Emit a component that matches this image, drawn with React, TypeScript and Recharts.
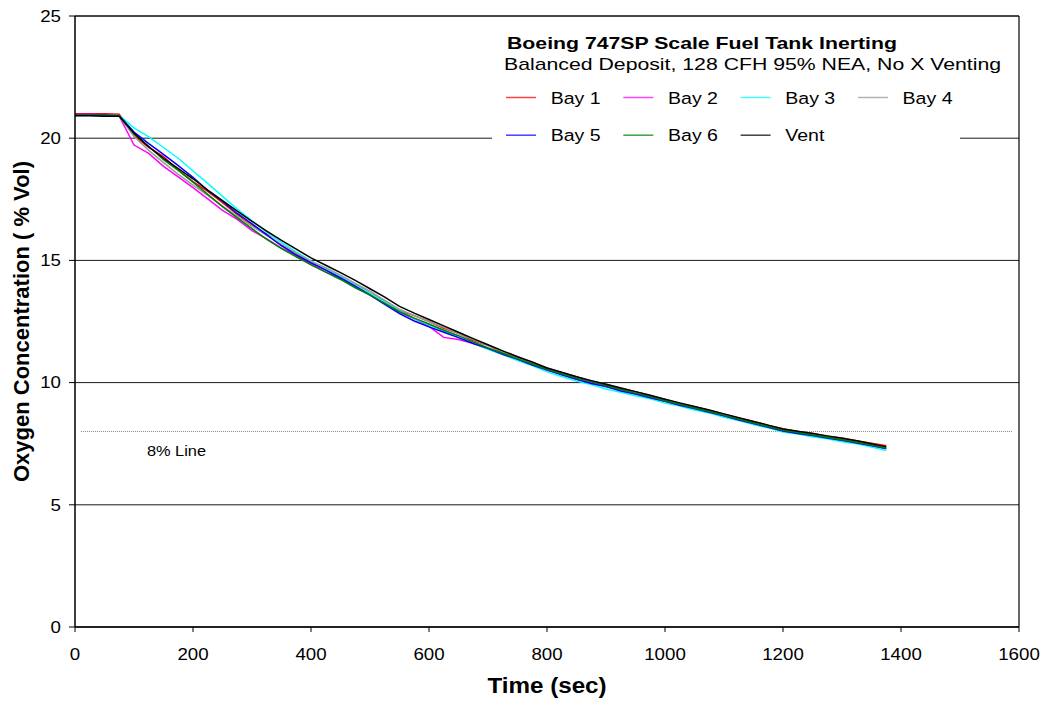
import React from 'react';
import { LineChart, Line, XAxis, YAxis, CartesianGrid, ReferenceLine, Legend } from 'recharts';

const FONT = '"Liberation Sans", Arial, Helvetica, sans-serif';

const timeSec = [
  0, 25, 50, 75, 100, 125, 150, 175, 200, 225, 250, 275, 300, 325, 350, 375, 400, 425, 450, 475,
  500, 525, 550, 575, 600, 625, 650, 675, 700, 725, 750, 775, 800, 825, 850, 875, 900, 925, 950, 975,
  1000, 1025, 1050, 1075, 1100, 1125, 1150, 1175, 1200, 1225, 1250, 1275, 1300, 1325, 1350, 1375,
];

const bay1 = [
  21.0, 21.0, 21.0, 20.98, 20.1, 19.62, 19.25, 18.7, 18.22, 17.82, 17.36, 16.88, 16.45, 16.08, 15.6, 15.3, 14.9, 14.64, 14.3, 14.04,
  13.66, 13.35, 12.95, 12.74, 12.5, 12.22, 12.02, 11.72, 11.52, 11.22, 11.06, 10.8, 10.6, 10.4, 10.24, 10.05, 9.93, 9.76, 9.63, 9.46,
  9.31, 9.15, 9.01, 8.86, 8.71, 8.55, 8.41, 8.25, 8.11, 8.0, 7.93, 7.8, 7.73, 7.62, 7.52, 7.42,
];
const bay2 = [
  20.97, 20.97, 20.96, 20.9, 19.72, 19.38, 18.85, 18.42, 17.98, 17.52, 17.05, 16.68, 16.22, 15.88, 15.5, 15.2, 14.85, 14.52, 14.26, 13.92,
  13.6, 13.25, 12.88, 12.62, 12.3, 11.85, 11.76, 11.6, 11.38, 11.16, 10.94, 10.74, 10.5, 10.34, 10.14, 10.0, 9.84, 9.7, 9.54, 9.4,
  9.24, 9.1, 8.94, 8.8, 8.63, 8.48, 8.32, 8.18, 8.02, 7.94, 7.84, 7.74, 7.63, 7.54, 7.41, 7.3,
];
const bay3 = [
  20.95, 20.95, 20.94, 20.93, 20.42, 20.05, 19.62, 19.18, 18.66, 18.15, 17.62, 17.1, 16.62, 16.15, 15.74, 15.35, 14.98, 14.66, 14.36, 14.0,
  13.66, 13.3, 12.94, 12.62, 12.35, 12.12, 11.85, 11.62, 11.36, 11.15, 10.9, 10.7, 10.44, 10.25, 10.06, 9.92, 9.74, 9.6, 9.46, 9.34,
  9.16, 9.04, 8.88, 8.76, 8.58, 8.45, 8.28, 8.15, 7.98, 7.9, 7.78, 7.7, 7.58, 7.5, 7.36, 7.22,
];
const bay4 = [
  20.93, 20.93, 20.92, 20.9, 20.08, 19.5, 19.0, 18.52, 18.08, 17.66, 17.22, 16.8, 16.4, 16.02, 15.66, 15.3, 14.96, 14.7, 14.4, 14.06,
  13.74, 13.36, 13.0, 12.74, 12.5, 12.26, 12.02, 11.76, 11.52, 11.26, 11.05, 10.82, 10.6, 10.4, 10.23, 10.08, 9.93, 9.78, 9.63, 9.47,
  9.31, 9.15, 9.01, 8.86, 8.71, 8.54, 8.39, 8.24, 8.09, 7.99, 7.91, 7.8, 7.71, 7.6, 7.5, 7.36,
];
const bay5 = [
  20.95, 20.95, 20.95, 20.92, 20.25, 19.78, 19.34, 18.88, 18.4, 17.86, 17.42, 16.92, 16.5, 16.04, 15.6, 15.22, 14.9, 14.6, 14.28, 13.95,
  13.58, 13.2, 12.82, 12.52, 12.28, 12.06, 11.84, 11.6, 11.4, 11.16, 10.96, 10.72, 10.52, 10.32, 10.14, 9.96, 9.84, 9.66, 9.53, 9.38,
  9.24, 9.07, 8.94, 8.79, 8.64, 8.47, 8.33, 8.17, 8.02, 7.92, 7.84, 7.73, 7.64, 7.53, 7.43, 7.3,
];
const bay6 = [
  20.94, 20.94, 20.94, 20.92, 20.18, 19.66, 19.12, 18.68, 18.2, 17.7, 17.2, 16.74, 16.3, 15.86, 15.48, 15.15, 14.82, 14.52, 14.22, 13.88,
  13.58, 13.24, 12.9, 12.64, 12.4, 12.14, 11.92, 11.66, 11.42, 11.2, 10.98, 10.76, 10.54, 10.36, 10.18, 10.03, 9.88, 9.72, 9.57, 9.43,
  9.26, 9.11, 8.96, 8.82, 8.66, 8.5, 8.35, 8.2, 8.05, 7.96, 7.86, 7.76, 7.66, 7.56, 7.45, 7.32,
];
const vent = [
  20.92, 20.92, 20.9, 20.9, 20.2, 19.65, 19.18, 18.76, 18.34, 17.88, 17.45, 17.02, 16.6, 16.2, 15.82, 15.46, 15.1, 14.8, 14.5, 14.18,
  13.84, 13.5, 13.12, 12.84, 12.58, 12.32, 12.06, 11.8, 11.55, 11.3, 11.06, 10.84, 10.6, 10.42, 10.24, 10.08, 9.93, 9.78, 9.63, 9.48,
  9.32, 9.17, 9.02, 8.88, 8.72, 8.56, 8.41, 8.26, 8.1, 8.01, 7.92, 7.82, 7.72, 7.62, 7.5, 7.38,
];

const seriesNames = ['Bay 1', 'Bay 2', 'Bay 3', 'Bay 4', 'Bay 5', 'Bay 6', 'Vent'];
const seriesValues = [bay1, bay2, bay3, bay4, bay5, bay6, vent];
const seriesColors = ['#ff0000', '#ff00ff', '#00ffff', '#9a9a9a', '#0000ff', '#008000', '#000000'];

const xTicks = [0, 200, 400, 600, 800, 1000, 1200, 1400, 1600];
const yTicks = [0, 5, 10, 15, 20, 25];

const chartTitle = 'Boeing 747SP Scale Fuel Tank Inerting';
const chartSubtitle = 'Balanced Deposit, 128 CFH 95% NEA, No X Venting';
const xAxisTitle = 'Time (sec)';
const yAxisTitle = 'Oxygen Concentration ( % Vol)';
const thresholdValue = 8;
const thresholdLabel = '8% Line';
const thresholdStart = 10;
const thresholdEnd = 1588;

const data = timeSec.map((t, i) => {
  const row: Record<string, number> = { t };
  seriesNames.forEach((name, k) => {
    row[name] = seriesValues[k][i];
  });
  return row;
});

const YTick = (props: any) => {
  const { x, y, payload } = props;
  return (
    <g transform={`translate(${x},${y}) scale(1.1,1)`}>
      <text x={0} y={0} textAnchor="end" dominantBaseline="central" fontSize={17} fill="#000" fontFamily={FONT}>
        {payload.value}
      </text>
    </g>
  );
};

const XTick = (props: any) => {
  const { x, y, payload } = props;
  return (
    <g transform={`translate(${x},${y}) scale(1.1,1)`}>
      <text x={0} y={0} dy="0.71em" textAnchor="middle" fontSize={17} fill="#000" fontFamily={FONT}>
        {payload.value}
      </text>
    </g>
  );
};

const YTitle = (props: any) => {
  const vb = props.viewBox || { x: 0, y: 16, width: 75, height: 611 };
  const cx = vb.x + 21;
  const cy = vb.y + vb.height / 2;
  return (
    <text
      x={cx}
      y={cy}
      transform={`rotate(-90 ${cx} ${cy})`}
      textAnchor="middle"
      dominantBaseline="central"
      fontSize={22}
      fontWeight="bold"
      fill="#000"
      fontFamily={FONT}
    >
      {yAxisTitle}
    </text>
  );
};

const XTitle = (props: any) => {
  const vb = props.viewBox || { x: 75, y: 627, width: 944, height: 75 };
  const cx = vb.x + vb.width / 2;
  const cy = vb.y + 58;
  return (
    <g transform={`translate(${cx},${cy}) scale(1.1,1)`}>
      <text x={0} y={0} textAnchor="middle" dominantBaseline="central" fontSize={22} fontWeight="bold" fill="#000" fontFamily={FONT}>
        {xAxisTitle}
      </text>
    </g>
  );
};

const ThresholdLabel = (props: any) => {
  const vb = props.viewBox || { x: 81, y: 431 };
  const lx = vb.x + 66;
  const ly = vb.y + 19;
  return (
    <g transform={`translate(${lx},${ly}) scale(1.17,1)`}>
      <text x={0} y={0} dominantBaseline="central" fontSize={14} fill="#000" fontFamily={FONT}>
        {thresholdLabel}
      </text>
    </g>
  );
};

const LegendContent = (props: any) => {
  const payload = (props.payload || []) as any[];
  return (
    <svg width={530} height={124} style={{ display: 'block', overflow: 'visible' }}>
      <rect x={0} y={0} width={468} height={124} fill="#fff" />
      <g transform="translate(15,15.5) scale(1.25,1)">
        <text x={0} y={0} dominantBaseline="central" fontSize={17} fontWeight="bold" fill="#000" fontFamily={FONT}>
          {chartTitle}
        </text>
      </g>
      <g transform="translate(12,36) scale(1.25,1)">
        <text x={0} y={0} dominantBaseline="central" fontSize={17} fill="#000" fontFamily={FONT}>
          {chartSubtitle}
        </text>
      </g>
      {payload.map((entry, i) => {
        const col = i % 4;
        const row = Math.floor(i / 4);
        const bx = 14 + col * 117.3;
        const by = 69.5 + row * 37.7;
        return (
          <g key={String(entry.value)}>
            <line x1={bx} x2={bx + 30} y1={by} y2={by} stroke={entry.color} strokeWidth={1.5} strokeOpacity={0.75} />
            <g transform={`translate(${bx + 44.7},${by}) scale(1.15,1)`}>
              <text x={0} y={0} dominantBaseline="central" fontSize={17} fill="#000" fontFamily={FONT}>
                {entry.value}
              </text>
            </g>
          </g>
        );
      })}
    </svg>
  );
};

export default function App() {
  return (
    <div style={{ position: 'absolute', left: 0, top: 0, width: 1044, height: 702, background: '#fff' }}>
      <LineChart width={1044} height={702} data={data} margin={{ top: 16, right: 25, bottom: 0, left: 0 }}>
        <CartesianGrid vertical={false} stroke="#1a1a1a" strokeWidth={1} />
        <XAxis
          dataKey="t"
          type="number"
          domain={[0, 1600]}
          ticks={xTicks}
          height={75}
          tickSize={5}
          tickMargin={16}
          axisLine={{ stroke: '#000', strokeWidth: 1.5 }}
          tickLine={{ stroke: '#000', strokeWidth: 1 }}
          tick={<XTick />}
          label={(p: any) => <XTitle {...p} />}
          allowDataOverflow
        />
        <YAxis
          type="number"
          domain={[0, 25]}
          ticks={yTicks}
          width={75}
          tickSize={6}
          tickMargin={8}
          axisLine={{ stroke: '#000', strokeWidth: 1.5 }}
          tickLine={{ stroke: '#000', strokeWidth: 1 }}
          tick={<YTick />}
          label={(p: any) => <YTitle {...p} />}
          allowDataOverflow
        />
        <ReferenceLine y={25} stroke="#000" strokeWidth={1} />
        <ReferenceLine x={1600} stroke="#000" strokeWidth={1.2} />
        <ReferenceLine
          segment={[
            { x: thresholdStart, y: thresholdValue },
            { x: thresholdEnd, y: thresholdValue },
          ]}
          stroke="#888"
          strokeWidth={1}
          strokeDasharray="1 1"
          label={(p: any) => <ThresholdLabel {...p} />}
        />
        <Legend
          content={<LegendContent />}
          layout="horizontal"
          align="center"
          verticalAlign="middle"
          wrapperStyle={{ left: 492, top: 28, width: 530, height: 124, margin: 0, padding: 0, overflow: 'visible' }}
        />
        {seriesNames.map((name, k) => (
          <Line
            key={name}
            type="linear"
            dataKey={name}
            name={name}
            stroke={seriesColors[k]}
            strokeWidth={1.5}
            dot={false}
            activeDot={false}
            isAnimationActive={false}
          />
        ))}
      </LineChart>
    </div>
  );
}
